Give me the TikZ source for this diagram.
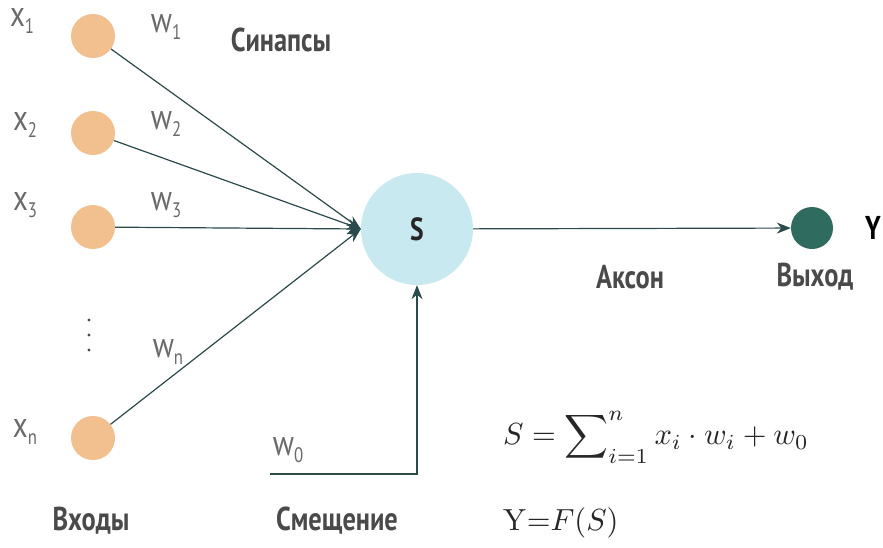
\documentclass[tikz,border=0pt]{standalone}
\usepackage{amsmath}
\usepackage[no-math]{fontspec}
\setmainfont{PT Sans}[FakeStretch=0.8]
\usetikzlibrary{arrows.meta}
\definecolor{inc}{HTML}{F2C08F}
\definecolor{sumc}{HTML}{C8E9EF}
\definecolor{outc}{HTML}{2F6B5F}
\definecolor{linec}{HTML}{2B4A4C}
\definecolor{lblc}{HTML}{4A4A4A}
\definecolor{varc}{HTML}{6A6A6A}
\newcommand\lsub[1]{\raisebox{-0.4ex}{\fontsize{21}{21}\selectfont #1}}
\tikzset{
  inp/.style={circle, fill=inc, minimum size=44pt, inner sep=0pt},
  sumn/.style={circle, fill=sumc, minimum size=112pt, inner sep=0pt, font=\bfseries\fontsize{32}{36}\selectfont, text=black!85},
  outn/.style={circle, fill=outc, minimum size=42pt, inner sep=0pt},
  conn/.style={draw=linec, line width=1.2pt, -{Stealth[length=14pt,width=11pt]}},
  lbl/.style={text=lblc, font=\bfseries\fontsize{33}{37}\selectfont, inner sep=0pt},
  var/.style={text=varc, font=\fontsize{36}{40}\selectfont, inner sep=0pt},
  frm/.style={text=black!85, inner sep=0pt}
}
\begin{document}
\begin{tikzpicture}[x=1pt,y=-1pt]
\useasboundingbox[fill=white] (0,0) rectangle (883,547);
\node[inp] (x1) at (93,36) {};
\node[inp] (x2) at (93,133) {};
\node[inp] (x3) at (93,227) {};
\node[inp] (xn) at (93,438) {};
\node[sumn] (s) at (417,229) {S};
\node[outn] (y) at (812,228) {};
\coordinate (b0) at (270,474);
\draw[conn] (x1) -- (s.west);
\draw[conn] (x2) -- (s.west);
\draw[conn] (x3) -- (s.west);
\draw[conn] (xn) -- (s.west);
\draw[conn] (b0) -| (s.south);
\draw[conn] (s) -- (y);
\foreach \yy in {320,335,350} \fill[lblc] (89,\yy) circle (1.7pt);
\node[var] (lx1) at (22,21) {x\lsub{1}};
\node[var] (lx2) at (25,125) {x\lsub{2}};
\node[var] (lx3) at (25,205) {x\lsub{3}};
\node[var] (lxn) at (25,432) {x\lsub{n}};
\node[var] (lw1) at (166,27) {w\lsub{1}};
\node[var] (lw2) at (166,124) {w\lsub{2}};
\node[var] (lw3) at (166,205) {w\lsub{3}};
\node[var] (lwn) at (168,352) {w\lsub{n}};
\node[var] (lw0) at (288,450) {w\lsub{0}};
\node[lbl] (syn) at (281,40) {Синапсы};
\node[lbl] (ax) at (630,277) {Аксон};
\node[lbl] (vyh) at (815,277) {Выход};
\node[lbl, text=black] (ly) at (873,228) {Y};
\node[lbl] (vh) at (91,521) {Входы};
\node[lbl] (sm) at (337,521) {Смещение};
\node[frm, anchor=west] (f1) at (503,437) {\scalebox{3.05}{$\displaystyle S=\sum\nolimits_{i=1}^{n} x_i\cdot w_i+w_0$}};
\node[frm, anchor=west] (f2) at (503,523) {\scalebox{3.05}{$\mathrm{Y}{=}F(S)$}};
\end{tikzpicture}
\end{document}
